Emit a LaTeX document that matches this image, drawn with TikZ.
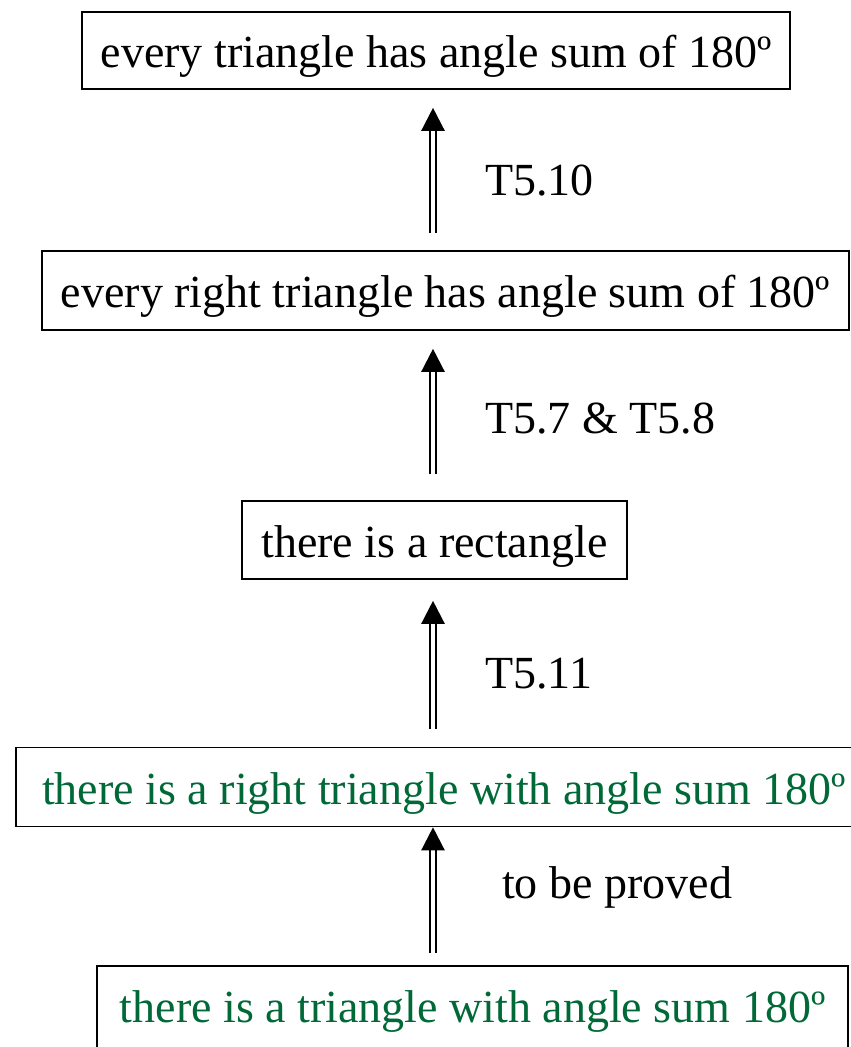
\documentclass[tikz,border=0pt]{standalone}
\usepackage{fontspec}
\setmainfont{Liberation Serif}
\usetikzlibrary{arrows.meta}
\definecolor{proofgreen}{RGB}{0,105,55}
\tikzset{
  box/.style={draw=black, line width=1.6pt, inner sep=0pt, text height=34pt, text depth=0pt, font=\fontsize{46}{50}\selectfont},
  greentext/.style={text=proofgreen},
  lbl/.style={anchor=base west, inner sep=0pt, font=\fontsize{46}{50}\selectfont},
  dblarrow/.style={line width=2.4pt, double, double distance=3.4pt, -{Triangle[width=23pt,length=23pt]}}
}
\begin{document}
\begin{tikzpicture}[x=1pt,y=1pt]
\useasboundingbox (0,0) rectangle (851,-1047);
\coordinate (ax) at (433,0);
\node[box, minimum width=708pt, minimum height=77pt] (b1) at (436,-50.5) {every triangle has angle sum of 180º};
\node[box, minimum width=807pt, minimum height=79pt] (b2) at (445.5,-290.5) {every right triangle has angle sum of 180º};
\node[box, minimum width=385pt, minimum height=78pt] (b3) at (434.5,-540) {there is a rectangle};
\node[box, greentext, minimum width=856pt, minimum height=79pt] (b4) at (444,-787) {there is a right triangle with angle sum 180º};
\node[box, greentext, text depth=11pt, minimum width=751pt, minimum height=90pt] (b5) at (472.5,-1011) {there is a triangle with angle sum 180º};
\draw[dblarrow, shorten <=17pt, shorten >=18pt] (b2.north -| ax) -- (b1.south -| ax);
\draw[dblarrow, shorten <=26pt, shorten >=18pt] (b3.north -| ax) -- (b2.south -| ax);
\draw[dblarrow, shorten <=18pt, shorten >=21pt] (b4.north -| ax) -- (b3.south -| ax);
\draw[dblarrow, shorten <=12pt, shorten >=0pt] (b5.north -| ax) -- (b4.south -| ax);
\node[lbl] (l1) at (485,-195) {T5.10};
\node[lbl] (l2) at (485,-433) {T5.7 \& T5.8};
\node[lbl] (l3) at (485,-688) {T5.11};
\node[lbl] (l4) at (502,-898) {to be proved};
\end{tikzpicture}
\end{document}
